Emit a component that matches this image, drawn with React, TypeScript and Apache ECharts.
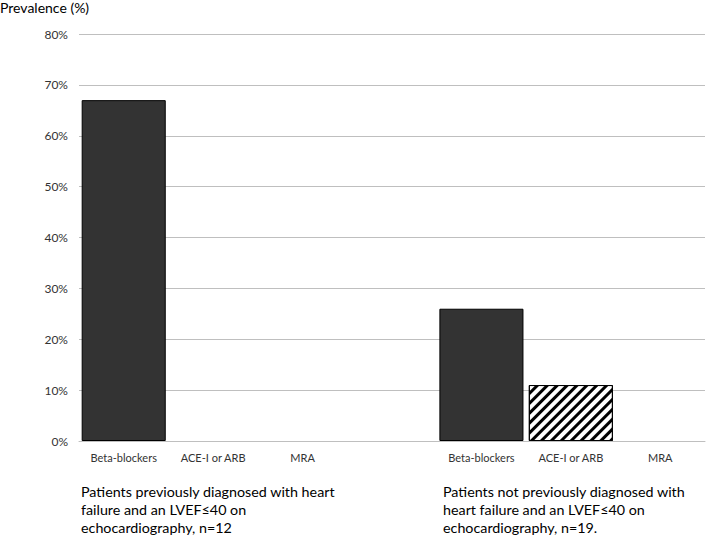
import React, { useEffect, useRef } from "react";
import * as echarts from "echarts";

const categories = ["Beta-blockers", "ACE-I or ARB", "MRA", "", "Beta-blockers", "ACE-I or ARB", "MRA"];
const prevalence: (number | null)[] = [67, 0, 0, null, 26, 11, 0];
const hatched = [false, false, false, false, false, true, false];
const yTicks = { min: 0, max: 80, interval: 10 };
const groupTitles = [
  "Patients previously diagnosed with heart\nfailure and an LVEF≤40 on\nechocardiography, n=12",
  "Patients not previously diagnosed with\nheart failure and an LVEF≤40 on\nechocardiography, n=19.",
];
const yAxisTitle = "Prevalence (%)";

export default function App() {
  const ref = useRef<HTMLDivElement>(null);
  useEffect(() => {
    if (!ref.current) return;
    const chart = echarts.init(ref.current, undefined, { renderer: "svg" });
    const font = "Lato, 'Open Sans', sans-serif";
    const data = prevalence.map((v, i) => {
      if (v === null) return { value: null };
      const base: any = {
        value: v,
        itemStyle: {
          color: hatched[i] ? "#ffffff" : "#333333",
          borderColor: "#000000",
          borderWidth: v === 0 ? 0 : 1,
        },
      };
      if (hatched[i]) {
        base.itemStyle.decal = {
          symbol: "rect",
          color: "#000000",
          backgroundColor: "#ffffff",
          dashArrayX: [1, 0],
          dashArrayY: [3, 4],
          rotation: -Math.PI / 4,
          symbolSize: 1,
        };
      }
      return base;
    });
    chart.setOption({
      animation: false,
      textStyle: { fontFamily: font },
      grid: { left: 79, right: 4, top: 34, bottom: 95, containLabel: false },
      xAxis: {
        type: "category",
        data: categories,
        axisLine: { lineStyle: { color: "#bfbfbf", width: 1 } },
        axisTick: { show: false },
        axisLabel: { color: "#333333", fontSize: 11, margin: 11, fontFamily: font, interval: 0 },
      },
      yAxis: {
        type: "value",
        min: yTicks.min,
        max: yTicks.max,
        interval: yTicks.interval,
        axisLabel: { formatter: "{value}%", color: "#333333", fontSize: 12, margin: 11, fontFamily: font },
        axisLine: { show: false },
        axisTick: { show: false },
        splitLine: { lineStyle: { color: "#bfbfbf", width: 1 } },
      },
      series: [
        {
          type: "bar",
          data,
          barCategoryGap: "6%",
        },
      ],
      graphic: [
        {
          type: "text",
          left: 0,
          top: 0,
          style: { text: yAxisTitle, fontSize: 14, fill: "#000", fontFamily: font },
        },
        {
          type: "text",
          left: 81,
          top: 482,
          style: { text: groupTitles[0], fontSize: 14.3, lineHeight: 18, fill: "#000", fontFamily: font },
        },
        {
          type: "text",
          left: 443,
          top: 482,
          style: { text: groupTitles[1], fontSize: 14.3, lineHeight: 18, fill: "#000", fontFamily: font },
        },
      ],
    });
    return () => chart.dispose();
  }, []);
  return (
    <div
      ref={ref}
      style={{ position: "fixed", left: 0, top: 0, width: 709, height: 536, background: "#fff" }}
    />
  );
}
